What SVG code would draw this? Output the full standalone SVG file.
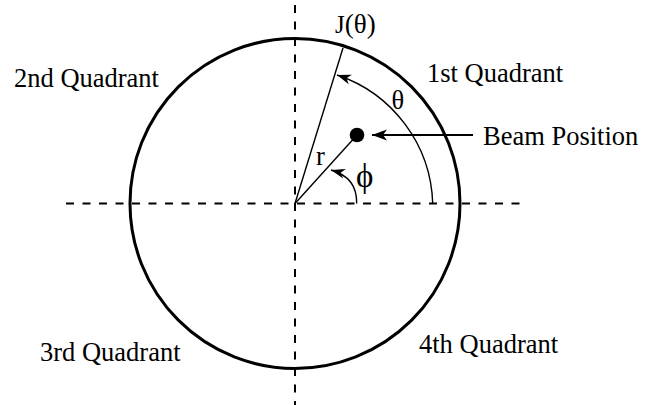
<svg xmlns="http://www.w3.org/2000/svg" width="648" height="405" viewBox="0 0 648 405">
  <style>
    .lbl { font-family: "Liberation Serif", "Times New Roman", serif; font-size: 26.5px; fill: #000; }
    .axis { stroke: #000; stroke-width: 2; stroke-dasharray: 8 8.5; fill: none; }
    .thin { stroke: #000; stroke-width: 1.4; fill: none; }
    .phi { font-family: "Liberation Serif", "Times New Roman", serif; font-size: 33px; fill: #000; }
    .jl { font-size: 25px; }
    .par { font-size: 27px; }
  </style>
  <defs>
    <marker id="ah" viewBox="-15 -6 16 12" refX="0" refY="0" markerWidth="16" markerHeight="12" markerUnits="userSpaceOnUse" orient="auto">
      <path d="M0,0 L-14,-5 L-10,0 L-14,5 Z" fill="#000"/>
    </marker>
    <marker id="ahBig" viewBox="-16 -6 17 12" refX="0" refY="0" markerWidth="17" markerHeight="12" markerUnits="userSpaceOnUse" orient="auto">
      <path d="M0,0 L-15,-5.5 L-11,0 L-15,5.5 Z" fill="#000"/>
    </marker>
  </defs>

  <g id="axes">
    <line class="axis" x1="66" y1="203.5" x2="522" y2="203.5"/>
    <line class="axis" x1="295" y1="5" x2="295" y2="405"/>
  </g>

  <g id="circle">
    <circle cx="295" cy="203.5" r="165" fill="none" stroke="#000" stroke-width="3"/>
  </g>

  <g id="beam">
    <circle cx="357" cy="135" r="7.3" fill="#000"/>
  </g>

  <g id="connectors">
    <line class="thin" x1="295" y1="203.5" x2="343" y2="48"/>
    <line class="thin" x1="295" y1="203.5" x2="357" y2="135"/>
    <path class="thin" d="M432.7,203.5 A140,140 0 0 0 337,75" marker-end="url(#ah)"/>
    <path class="thin" d="M356.7,203.5 C357,186 349,175 331,170" marker-end="url(#ah)"/>
    <line x1="473" y1="135" x2="372" y2="135" stroke="#000" stroke-width="2" marker-end="url(#ahBig)"/>
  </g>

  <g id="labels">
    <text class="lbl" x="14" y="86.7">2nd Quadrant</text>
    <text class="lbl" x="427" y="82">1st Quadrant</text>
    <text class="lbl" x="40" y="360.5">3rd Quadrant</text>
    <text class="lbl" x="419" y="353.3">4th Quadrant</text>
    <text class="lbl" x="483" y="145">Beam Position</text>
    <text class="lbl" x="335" y="33.3"><tspan class="jl">J</tspan><tspan class="par">(θ)</tspan></text>
    <text class="lbl" x="391.5" y="109">θ</text>
    <text class="phi" x="356" y="187">ϕ</text>
    <text class="lbl" x="316" y="165">r</text>
  </g>
</svg>
